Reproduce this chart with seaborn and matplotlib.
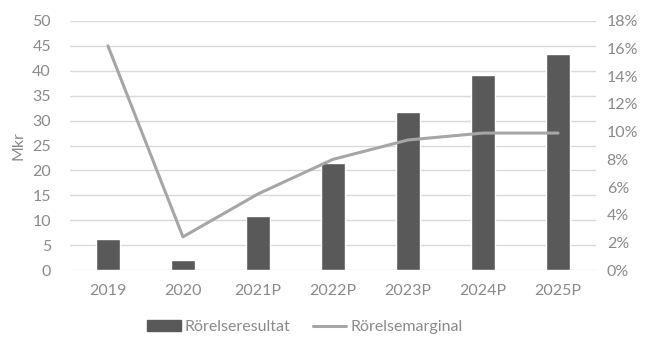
import matplotlib
matplotlib.use("Agg")
import matplotlib.pyplot as plt
from matplotlib.patches import Patch
from matplotlib.lines import Line2D
from matplotlib.ticker import FuncFormatter, MultipleLocator
import seaborn as sns
import pandas as pd

years = ["2019", "2020", "2021P", "2022P", "2023P", "2024P", "2025P"]
rorelseresultat = [6.2, 2.0, 10.8, 21.5, 31.7, 39.2, 43.3]   # Mkr
rorelsemarginal = [16.2, 2.4, 5.5, 8.0, 9.4, 9.9, 9.9]       # %

df = pd.DataFrame({"year": years, "resultat": rorelseresultat, "marginal": rorelsemarginal})

sns.set_theme(style="white")
plt.rcParams["font.family"] = ["Lato", "DejaVu Sans"]
plt.rcParams["font.weight"] = "normal"

text_col = "#8a8a8a"
bar_col = "#595959"
line_col = "#a6a6a6"
grid_col = "#d9d9d9"
fs = 11.5

fig = plt.figure(figsize=(6.46, 3.38), dpi=100)
ax = fig.add_axes([0.109, 0.201, 0.813, 0.737])

sns.barplot(data=df, x="year", y="resultat", color=bar_col, width=0.31,
            saturation=1, ax=ax, zorder=2)
ax.set_ylim(0, 50)
ax.yaxis.set_major_locator(MultipleLocator(5))
ax.set_xlim(-0.5, len(years) - 0.5)
ax.grid(axis="y", color=grid_col, linewidth=1, zorder=0)
ax.set_axisbelow(True)
ax.set_xlabel("")
ax.set_ylabel("Mkr", color=text_col, fontsize=fs, labelpad=5)

ax2 = ax.twinx()
sns.lineplot(x=list(range(len(years))), y=df["marginal"], color=line_col,
             linewidth=2.2, ax=ax2, zorder=3)
ax2.set_ylim(0, 18)
ax2.yaxis.set_major_locator(MultipleLocator(2))
ax2.yaxis.set_major_formatter(FuncFormatter(lambda v, p: f"{v:.0f}%"))
ax2.set_ylabel("")

for a in (ax, ax2):
    for s in a.spines.values():
        s.set_visible(False)
    a.tick_params(axis="both", length=0, colors=text_col, labelsize=fs)
ax.tick_params(axis="y", pad=14)
ax.tick_params(axis="x", pad=10)
ax2.tick_params(axis="y", pad=8)

handles = [Patch(facecolor=bar_col, edgecolor=bar_col),
           Line2D([0], [0], color=line_col, linewidth=2.2)]
leg = fig.legend(handles, ["Rörelseresultat", "Rörelsemarginal"], loc="center",
                 bbox_to_anchor=(0.472, 0.032), ncol=2, frameon=False,
                 fontsize=fs, handlelength=2.1, handleheight=0.6,
                 handletextpad=0.25, columnspacing=1.4)
for t in leg.get_texts():
    t.set_color(text_col)

fig.savefig("out.png", dpi=100)
